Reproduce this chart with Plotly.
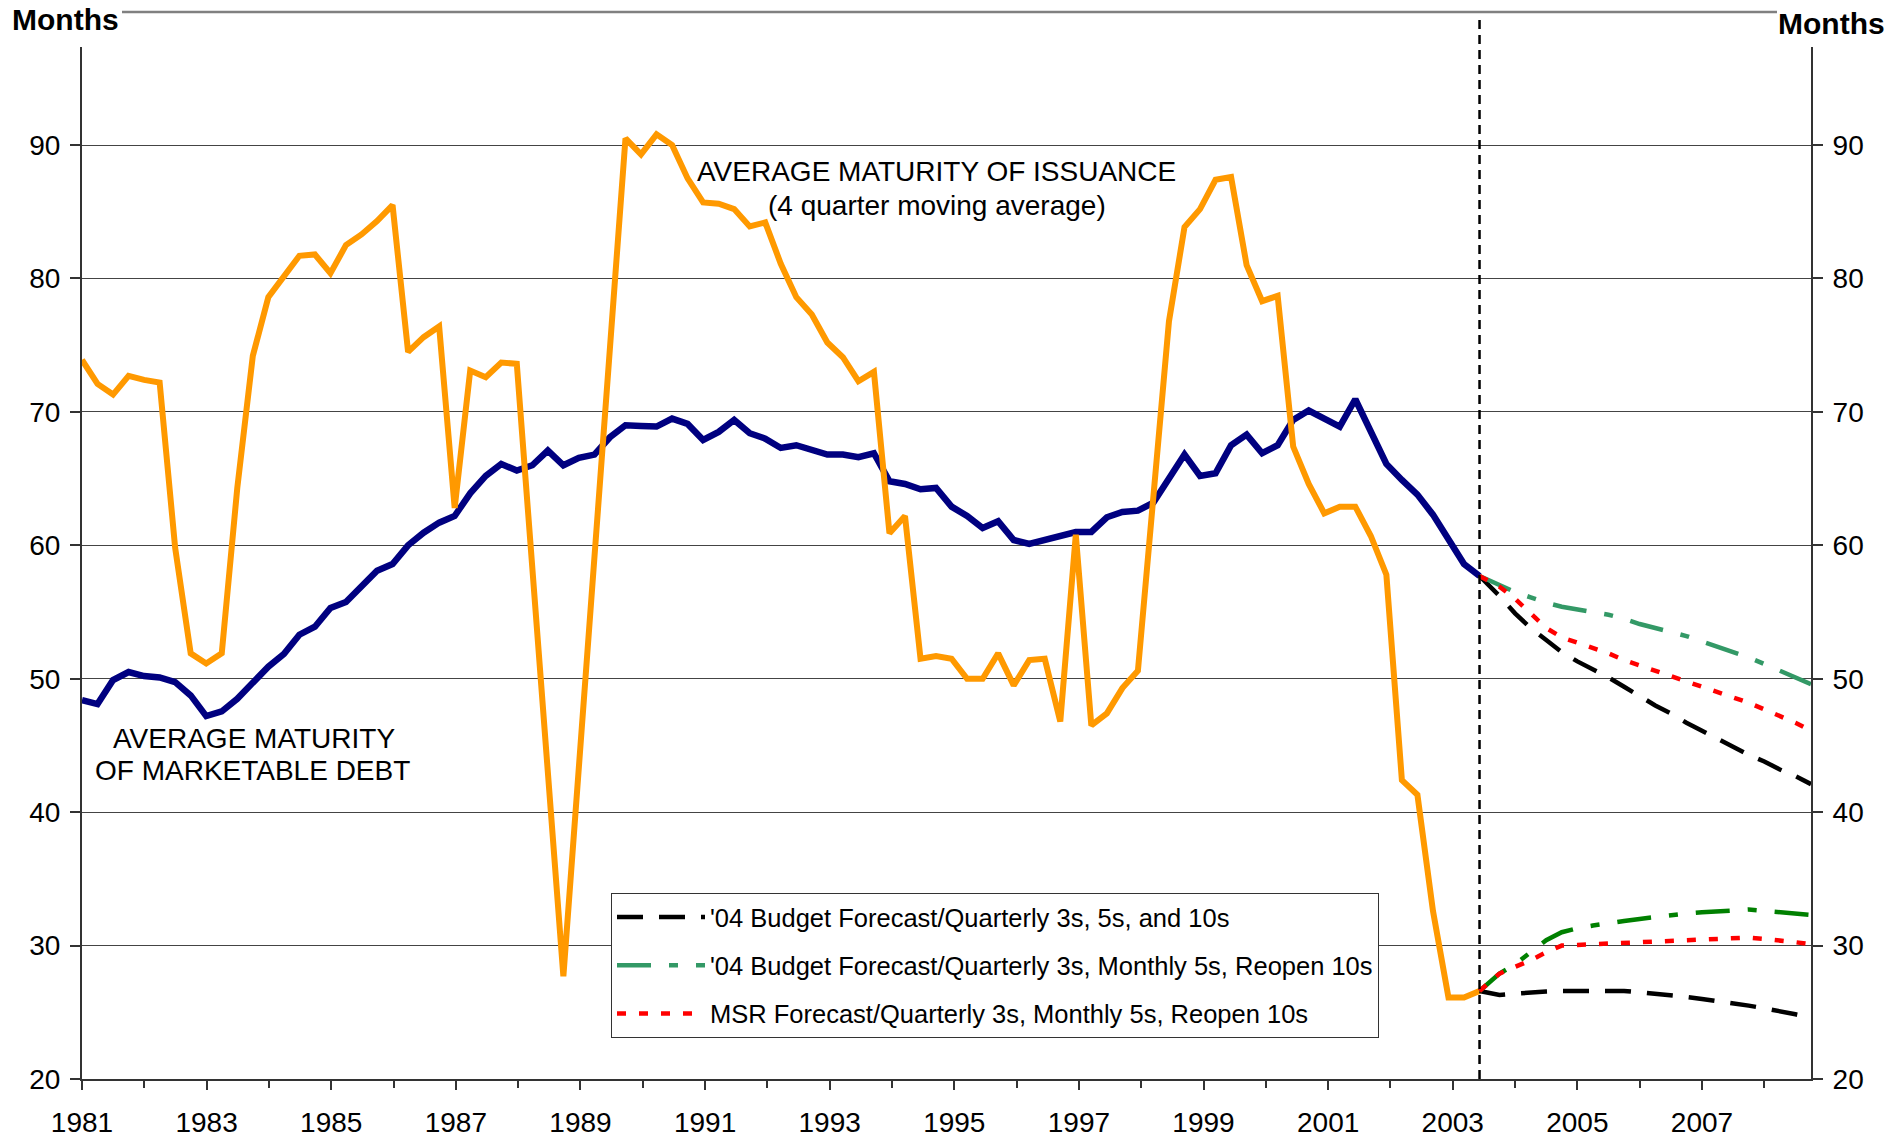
import numpy as np
import plotly.graph_objects as go

# ---------------- data ----------------
# Quarterly history, 1981Q1 .. mid-2003 (months)
issuance_avg = [73.9, 72.1, 71.3, 72.7, 72.4, 72.2, 59.8, 51.9, 51.15, 51.9,
                64.3, 74.2, 78.6, 80.1, 81.7, 81.8, 80.4, 82.5, 83.3, 84.3,
                85.5, 74.5, 75.6, 76.4, 62.8, 73.1, 72.6, 73.7, 73.6, 58.3,
                43.0, 27.7, 43.4, 59.1, 74.8, 90.5, 89.3, 90.8, 90.0, 87.5,
                85.7, 85.6, 85.2, 83.9, 84.2, 81.1, 78.6, 77.3, 75.2, 74.1,
                72.3, 73.0, 60.9, 62.2, 51.5, 51.7, 51.5, 50.0, 50.0, 51.9,
                49.5, 51.4, 51.5, 46.8, 60.8, 46.5, 47.4, 49.3, 50.6, 63.8,
                76.8, 83.85, 85.2, 87.4, 87.6, 81.0, 78.3, 78.7, 67.4, 64.6,
                62.4, 62.9, 62.9, 60.7, 57.8, 42.4, 41.3, 32.6, 26.1, 26.1,
                26.6]
marketable_debt = [48.4, 48.1, 49.9, 50.5, 50.2, 50.1, 49.75, 48.75, 47.2, 47.55,
                   48.5, 49.7, 50.9, 51.85, 53.3, 53.9, 55.3, 55.75, 56.95, 58.1,
                   58.6, 60.0, 60.95, 61.7, 62.2, 63.9, 65.2, 66.1, 65.6, 66.0,
                   67.1, 66.0, 66.55, 66.8, 68.1, 69.0, 68.95, 68.9, 69.5, 69.1,
                   67.9, 68.5, 69.4, 68.4, 68.0, 67.3, 67.5, 67.2, 66.8, 66.8,
                   66.6, 66.9, 64.8, 64.6, 64.2, 64.3, 62.9, 62.2, 61.3, 61.8,
                   60.4, 60.1, 60.4, 60.65, 61.0, 61.0, 62.1, 62.5, 62.6, 63.2,
                   65.1, 66.8, 65.2, 65.4, 67.5, 68.3, 66.9, 67.5, 69.4, 70.1,
                   69.5, 68.9, 70.95, 68.6, 66.1, 64.9, 63.8, 62.3, 60.5, 58.6,
                   57.7]
hist_start, hist_end = 1981.0, 2003.43

# Forecasts (start at last actual, then quarterly to end-2008)
forecast_x = [2003.43, 2003.75, 2004.0, 2004.25, 2004.5, 2004.75, 2005.0, 2005.25,
              2005.5, 2005.75, 2006.0, 2006.25, 2006.5, 2006.75, 2007.0, 2007.25,
              2007.5, 2007.75, 2008.0, 2008.25, 2008.5, 2008.75]
debt_budget_q = [57.7, 56.2, 54.9, 53.8, 52.9, 52.0, 51.3, 50.7, 50.1, 49.4, 48.7,
                 48.0, 47.4, 46.7, 46.1, 45.5, 44.9, 44.3, 43.8, 43.2, 42.7, 42.1]
debt_budget_m = [57.7, 57.0, 56.5, 56.1, 55.7, 55.4, 55.2, 55.0, 54.8, 54.5, 54.1,
                 53.8, 53.5, 53.2, 52.8, 52.4, 52.0, 51.6, 51.1, 50.6, 50.1, 49.6]
debt_msr = [57.7, 56.9, 56.0, 54.9, 53.8, 53.1, 52.7, 52.3, 51.9, 51.4, 51.0,
            50.6, 50.2, 49.8, 49.4, 49.0, 48.6, 48.2, 47.7, 47.2, 46.7, 46.1]
iss_budget_q = [26.6, 26.3, 26.4, 26.5, 26.55, 26.6, 26.6, 26.6, 26.6, 26.6, 26.5,
                26.4, 26.25, 26.15, 26.0, 25.85, 25.7, 25.5, 25.3, 25.1, 24.85, 24.6]
iss_budget_m = [26.6, 27.9, 28.6, 29.5, 30.4, 31.0, 31.3, 31.5, 31.7, 31.85, 32.0,
                32.15, 32.3, 32.4, 32.5, 32.55, 32.65, 32.7, 32.6, 32.5, 32.4, 32.3]
iss_msr = [26.6, 27.9, 28.4, 28.9, 29.5, 30.0, 30.05, 30.1, 30.15, 30.2, 30.25,
           30.3, 30.4, 30.45, 30.5, 30.55, 30.6, 30.6, 30.5, 30.4, 30.25, 30.1]

legend_names = ["'04 Budget Forecast/Quarterly 3s, 5s, and 10s",
                "'04 Budget Forecast/Quarterly 3s, Monthly 5s, Reopen 10s",
                "MSR Forecast/Quarterly 3s, Monthly 5s, Reopen 10s"]
y_ticks = [20, 30, 40, 50, 60, 70, 80, 90]
x_label_ticks = list(range(1981, 2008, 2))

# ---------------- figure ----------------
FONT = "Liberation Sans, Arial, sans-serif"
x_hist = np.linspace(hist_start, hist_end, len(marketable_debt))

fig = go.Figure()
fig.add_trace(go.Scatter(x=x_hist, y=marketable_debt, mode="lines",
                         line=dict(color="#000080", width=6.5), showlegend=False))
fig.add_trace(go.Scatter(x=x_hist, y=issuance_avg, mode="lines",
                         line=dict(color="#FF9900", width=6), showlegend=False))

styles = [
    dict(color="#000000", dash="26px,16px"),
    dict(color="#339966", dash="34px,18px,9px,18px"),
    dict(color="#FF0000", dash="9px,13px"),
]
upper = [debt_budget_q, debt_budget_m, debt_msr]
lower = [iss_budget_q, iss_budget_m, iss_msr]
lower_colors = ["#000000", "#008000", "#FF0000"]
for i in range(3):
    fig.add_trace(go.Scatter(x=forecast_x, y=upper[i], mode="lines", name=legend_names[i],
                             legendgroup=f"g{i}", showlegend=True,
                             line=dict(color=styles[i]["color"], width=4.5, dash=styles[i]["dash"])))
    fig.add_trace(go.Scatter(x=forecast_x, y=lower[i], mode="lines", name=legend_names[i],
                             legendgroup=f"g{i}", showlegend=False,
                             line=dict(color=lower_colors[i], width=4.5, dash=styles[i]["dash"])))

# invisible trace for the right axis
fig.add_trace(go.Scatter(x=[hist_start], y=[50], yaxis="y2", mode="markers",
                         marker=dict(opacity=0), showlegend=False, hoverinfo="skip"))

yr = [20, 97.35]
axis_common = dict(range=yr, tickvals=y_ticks, ticks="outside", ticklen=10, tickwidth=1.5,
                   tickcolor="#333333", showline=True, linecolor="#333333", linewidth=2,
                   tickfont=dict(family=FONT, size=28, color="#000000"), zeroline=False,
                   automargin=False)
fig.update_layout(
    width=1893, height=1137,
    margin=dict(l=82, r=82, t=47, b=58),
    paper_bgcolor="white", plot_bgcolor="white",
    font=dict(family=FONT, color="#000000"),
    xaxis=dict(range=[1981, 2008.75], tickmode="array", tickvals=x_label_ticks,
               ticks="outside", ticklen=9, tickwidth=1.5, tickcolor="#333333",
               minor=dict(dtick=1, tick0=1981, ticks="outside", ticklen=7, tickwidth=1.5,
                          tickcolor="#333333", showgrid=False),
               showline=True, linecolor="#333333", linewidth=2, showgrid=False,
               zeroline=False, ticklabelstandoff=8, automargin=False,
               tickfont=dict(family=FONT, size=28, color="#000000")),
    yaxis=dict(**axis_common, showgrid=True, gridcolor="#444444", gridwidth=1,
               ticklabelstandoff=4),
    yaxis2=dict(**axis_common, overlaying="y", side="right", showgrid=False,
                ticklabelstandoff=4),
    legend=dict(x=(611 - 82) / 1729, y=(1079 - 893) / 1032, xanchor="left", yanchor="top",
                bgcolor="white", bordercolor="#333333", borderwidth=1,
                font=dict(family=FONT, size=25.5, color="#000000"),
                itemwidth=88, tracegroupgap=12, traceorder="grouped"),
    showlegend=True,
)

# vertical dashed line at forecast start
fig.add_shape(type="line", xref="x", yref="paper", x0=forecast_x[0], x1=forecast_x[0],
              y0=0, y1=(1079 - 18) / 1032, line=dict(color="#000000", width=2.5, dash="9px,6px"))
# top gray rule
fig.add_shape(type="line", xref="paper", yref="paper", x0=(122 - 82) / 1729, x1=(1777 - 82) / 1729,
              y0=(1079 - 12) / 1032, y1=(1079 - 12) / 1032, line=dict(color="#808080", width=2.5))

ann_font = dict(family=FONT, size=28, color="#000000")
fig.add_annotation(text="Months", xref="paper", yref="paper", x=(10 - 82) / 1729,
                   y=(1079 - 20) / 1032, xanchor="left", yanchor="middle", showarrow=False,
                   font=dict(family=FONT, size=30, color="#000000", weight="bold"))
fig.add_annotation(text="Months", xref="paper", yref="paper", x=(1887 - 82) / 1729,
                   y=(1079 - 24) / 1032, xanchor="right", yanchor="middle", showarrow=False,
                   font=dict(family=FONT, size=30, color="#000000", weight="bold"))
fig.add_annotation(text="AVERAGE MATURITY OF ISSUANCE", x=1994.71, y=88.05, xref="x", yref="y",
                   showarrow=False, font=ann_font)
fig.add_annotation(text="(4 quarter moving average)", x=1994.73, y=85.5, xref="x", yref="y",
                   showarrow=False, font=ann_font)
fig.add_annotation(text="AVERAGE MATURITY", x=1983.76, y=45.55, xref="x", yref="y",
                   showarrow=False, font=ann_font)
fig.add_annotation(text="OF MARKETABLE DEBT", x=1983.74, y=43.15, xref="x", yref="y",
                   showarrow=False, font=ann_font)

fig.write_html("out.html", config={"displayModeBar": False},
               post_script="document.body.style.margin='0';document.body.style.overflow='hidden';")
